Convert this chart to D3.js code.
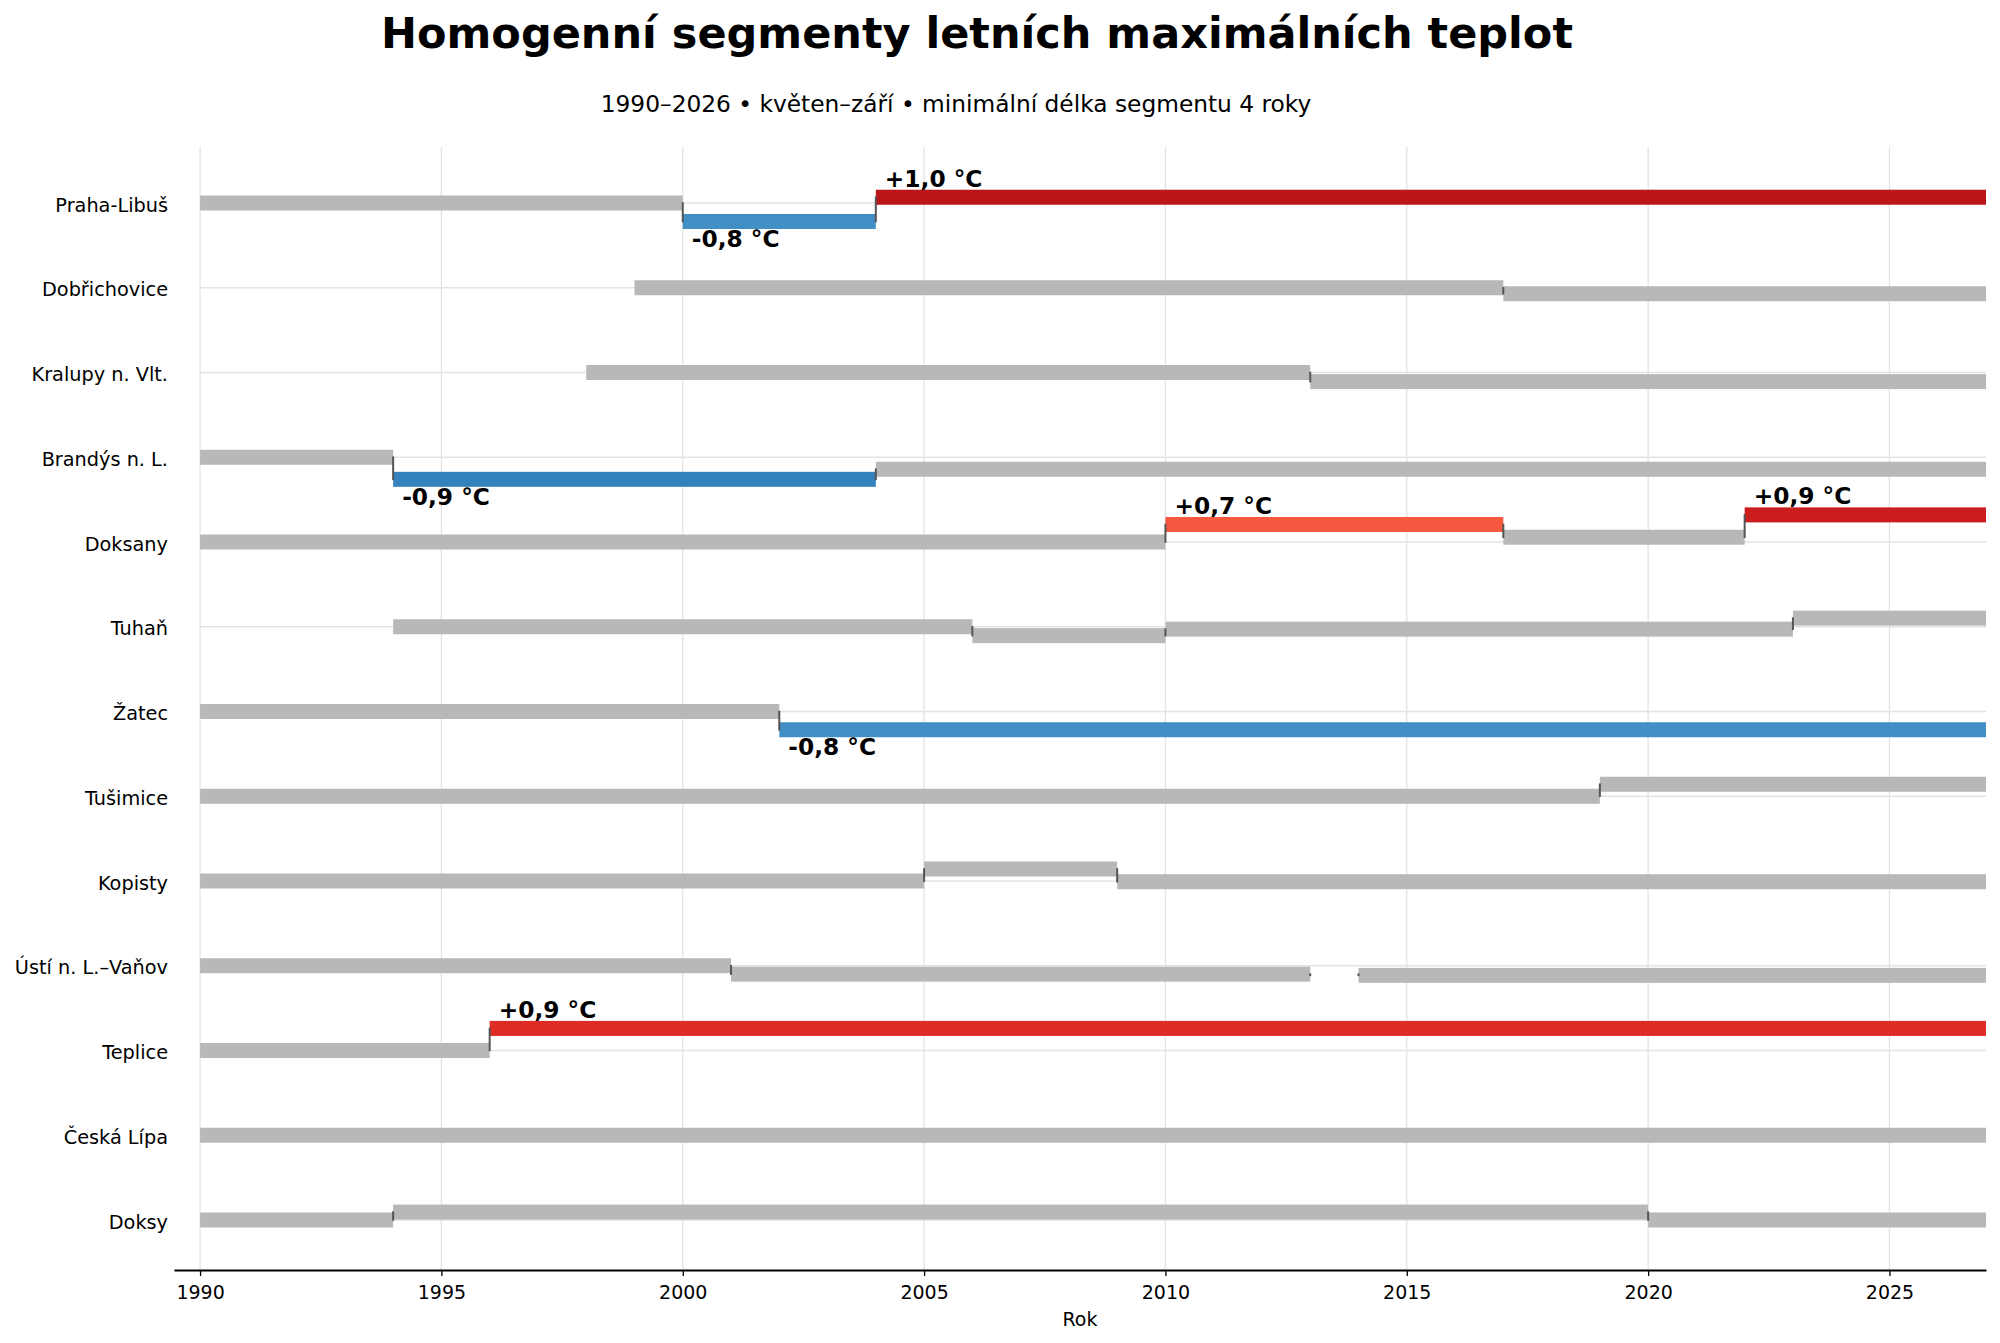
<!DOCTYPE html>
<html lang="cs">
<head>
<meta charset="UTF-8">
<title>Homogenní segmenty letních maximálních teplot</title>
<script src="https://cdn.jsdelivr.net/npm/d3@7/dist/d3.min.js"></script>
<style>
  body { margin: 0; background: #fff; }
  svg { display: block; font-family: "DejaVu Sans", sans-serif; }
</style>
</head>
<body>
<div id="chart"></div>
<script>
// stanice (shora dolů)
const stations = ["Praha-Libuš", "Dobřichovice", "Kralupy n. Vlt.", "Brandýs n. L.", "Doksany", "Tuhaň",
  "Žatec", "Tušimice", "Kopisty", "Ústí n. L.–Vaňov", "Teplice", "Česká Lípa", "Doksy"];

// začátky a konce segmentů (roky)
const segStart = [
  [1990, 2000, 2004], [1999, 2017], [1998, 2013], [1990, 1994, 2004], [1990, 2010, 2017, 2022],
  [1994, 2006, 2010, 2023], [1990, 2002], [1990, 2019], [1990, 2005, 2009], [1990, 2001, 2014],
  [1990, 1996], [1990], [1990, 1994, 2020]
];
const segEnd = [
  [2000, 2004, 2027], [2017, 2027], [2013, 2027], [1994, 2004, 2027], [2010, 2017, 2022, 2027],
  [2006, 2010, 2023, 2027], [2002, 2027], [2019, 2027], [2005, 2009, 2027], [2001, 2013, 2027],
  [1996, 2027], [2027], [1994, 2020, 2027]
];
// úroveň segmentu vůči prvnímu segmentu (°C)
const segLevel = [
  [0, -0.77, 0.24], [0, -0.25], [0, -0.38], [0, -0.92, -0.5], [0, 0.73, 0.2, 1.13],
  [0, -0.37, -0.1, 0.36], [0, -0.76], [0, 0.5], [0, 0.5, -0.03], [0, -0.35, -0.4],
  [0, 0.92], [0], [0, 0.33, 0]
];
// významné skoky (°C), null = nevýznamný
const segShift = [
  [null, -0.8, 1.0], [null, null], [null, null], [null, -0.86, null], [null, 0.7, null, 0.94],
  [null, null, null, null], [null, -0.8], [null, null], [null, null, null], [null, null, null],
  [null, 0.86], [null], [null, null, null]
];
const xTicks = [1990, 1995, 2000, 2005, 2010, 2015, 2020, 2025];

const W = 2000, H = 1343;
const svg = d3.select("#chart").append("svg").attr("width", W).attr("height", H);

const x = d3.scaleLinear().domain([1989.46, 2027]).range([174, 1986]);
const y = d3.scalePoint().domain(stations).range([203, 1220]);
const off = d3.scaleLinear().domain([-1, 1]).range([24, -24]);
const tint = d3.scaleLinear().domain([0.7, 1.0]).range([0.55, 0.8]).clamp(true);
const barH = 15;

function colorOf(s) {
  if (s == null) return "#b8b8b8";
  return s > 0 ? d3.interpolateReds(tint(Math.abs(s))) : d3.interpolateBlues(tint(Math.abs(s)));
}

// build flat list
const segs = [];
stations.forEach((st, i) => {
  segStart[i].forEach((s, j) => {
    segs.push({ st: st, i: i, j: j, start: s, end: segEnd[i][j], level: segLevel[i][j], shift: segShift[i][j] });
  });
});

// grid
svg.append("g").selectAll("line").data(xTicks).join("line")
  .attr("x1", d => x(d)).attr("x2", d => x(d))
  .attr("y1", 147).attr("y2", 1270)
  .attr("stroke", "#e3e3e3").attr("stroke-width", 1.3);
svg.append("g").selectAll("line").data(stations).join("line")
  .attr("x1", x(1990)).attr("x2", x(2027))
  .attr("y1", d => y(d)).attr("y2", d => y(d))
  .attr("stroke", "#e3e3e3").attr("stroke-width", 1.3);

// bars
svg.append("g").selectAll("rect").data(segs).join("rect")
  .attr("x", d => x(d.start))
  .attr("width", d => x(d.end) - x(d.start))
  .attr("y", d => y(d.st) + off(d.level) - barH / 2)
  .attr("height", barH)
  .attr("fill", d => colorOf(d.shift));

// break markers
const breaks = [];
segs.forEach(d => {
  if (d.j > 0) {
    const p = segs.find(e => e.i === d.i && e.j === d.j - 1);
    const y0 = y(d.st) + off(p.level), y1 = y(d.st) + off(d.level);
    breaks.push({ xv: p.end, y0: y0, y1: y1 });
    if (p.end !== d.start) breaks.push({ xv: d.start, y0: y0, y1: y1 });
  }
});
svg.append("g").selectAll("line").data(breaks).join("line")
  .attr("x1", d => x(d.xv)).attr("x2", d => x(d.xv))
  .attr("y1", d => Math.min(d.y0, d.y1) - 0.8).attr("y2", d => Math.max(d.y0, d.y1) + 0.8)
  .attr("stroke", "#555").attr("stroke-width", 2);

// shift labels
const fmt = v => (v > 0 ? "+" : "-") + d3.format(".1f")(Math.abs(v)).replace(".", ",") + " °C";
svg.append("g").selectAll("text").data(segs.filter(d => d.shift != null)).join("text")
  .attr("x", d => x(d.start) + 9)
  .attr("y", d => {
    const c = y(d.st) + off(d.level);
    return d.shift > 0 ? c - barH / 2 - 3 : c + barH / 2 + 18;
  })
  .attr("font-size", 23.3).attr("font-weight", "bold")
  .text(d => fmt(d.shift));

// y labels
svg.append("g").selectAll("text").data(stations).join("text")
  .attr("x", 168).attr("y", d => y(d) + 8.5)
  .attr("text-anchor", "end").attr("font-size", 19.3)
  .text(d => d);

// x axis
const ax = svg.append("g").attr("transform", "translate(0,1270)")
  .call(d3.axisBottom(x).tickValues(xTicks).tickFormat(d3.format("d")).tickSize(6).tickSizeOuter(0).tickPadding(10));
ax.select(".domain").attr("stroke", "#000").attr("stroke-width", 2);
ax.selectAll(".tick line").attr("stroke", "#000").attr("stroke-width", 1.3);
ax.selectAll(".tick text").attr("font-size", 19).attr("font-family", "DejaVu Sans").attr("fill", "#000");

svg.append("text").attr("x", (174 + 1986) / 2).attr("y", 1326)
  .attr("text-anchor", "middle").attr("font-size", 19).text("Rok");

// titles
svg.append("text").attr("x", 977).attr("y", 48)
  .attr("text-anchor", "middle").attr("font-size", 43).attr("font-weight", "bold")
  .text("Homogenní segmenty letních maximálních teplot");
svg.append("text").attr("x", 956).attr("y", 112)
  .attr("text-anchor", "middle").attr("font-size", 23.3)
  .text("1990–2026 • květen–září • minimální délka segmentu 4 roky");
</script>
</body>
</html>
